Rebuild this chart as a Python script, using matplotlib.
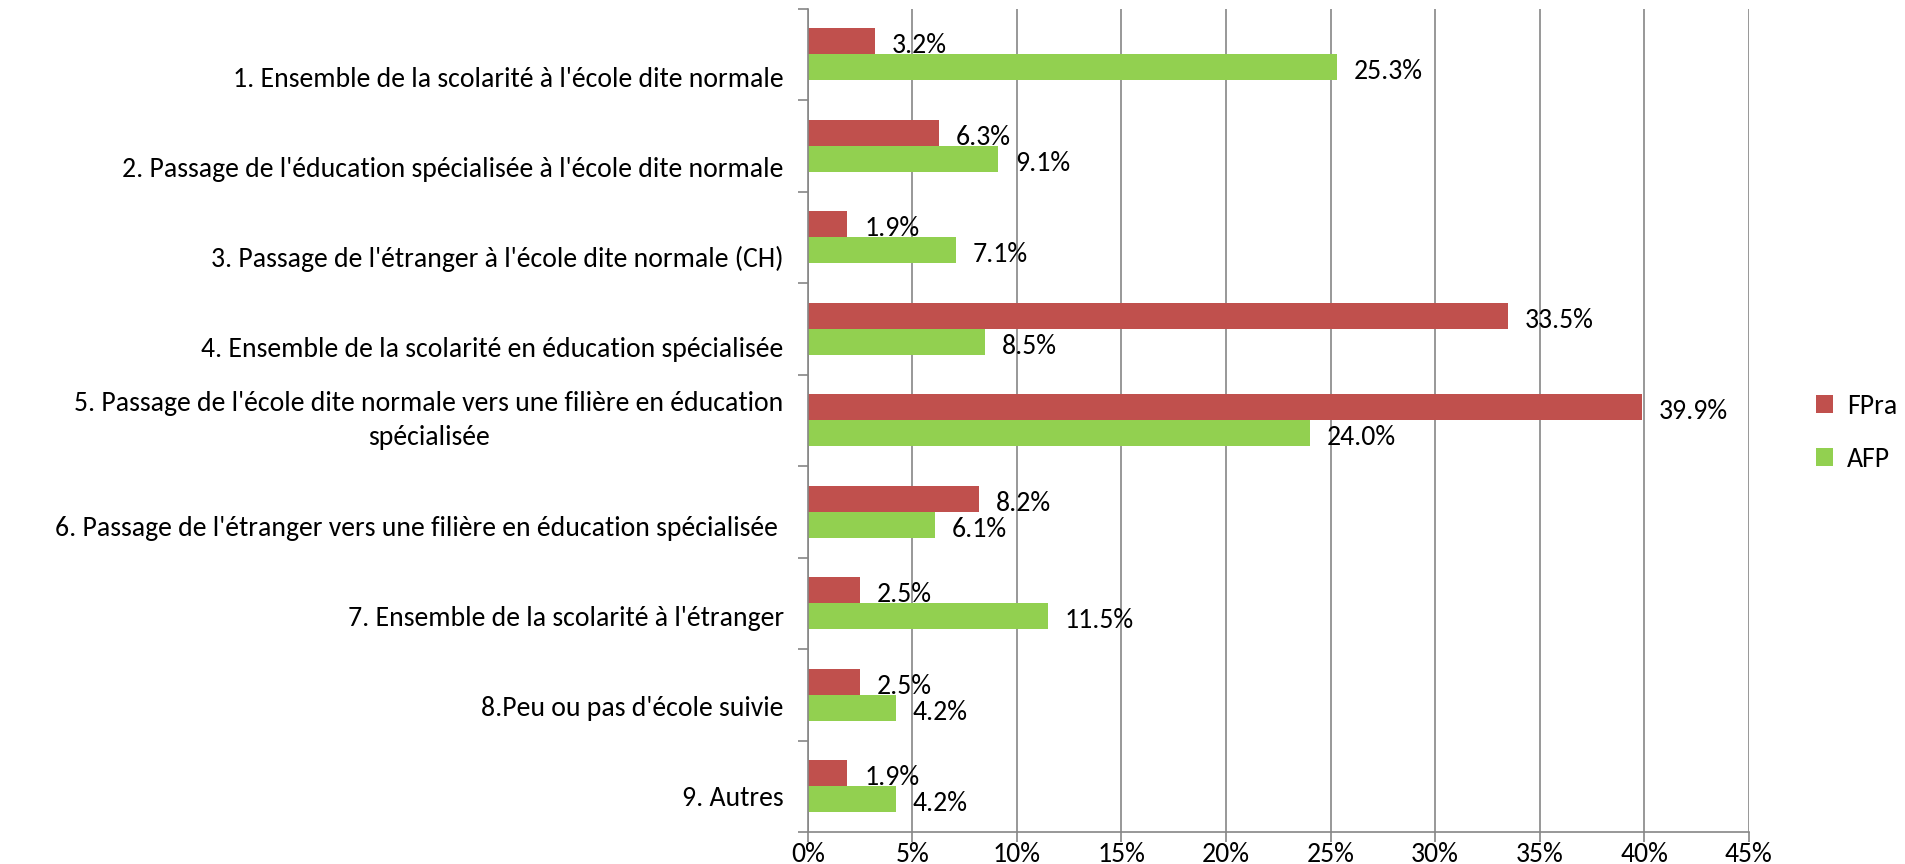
import numpy as np
import matplotlib.pyplot as plt
from matplotlib import font_manager
import matplotlib.transforms as mtransforms

names = set(f.name for f in font_manager.fontManager.ttflist)
for fam in ['Carlito', 'Liberation Sans Narrow', 'Open Sans', 'DejaVu Sans']:
    if fam in names:
        plt.rcParams['font.family'] = fam
        break

categories = [
    "1. Ensemble de la scolarité à l'école dite normale",
    "2. Passage de l'éducation spécialisée à l'école dite normale",
    "3. Passage de l'étranger à l'école dite normale (CH)",
    "4. Ensemble de la scolarité en éducation spécialisée",
    "5. Passage de l'école dite normale vers une filière en éducation\nspécialisée",
    "6. Passage de l'étranger vers une filière en éducation spécialisée ",
    "7. Ensemble de la scolarité à l'étranger",
    "8.Peu ou pas d'école suivie",
    "9. Autres",
]
fpra = [3.2, 6.3, 1.9, 33.5, 39.9, 8.2, 2.5, 2.5, 1.9]
afp = [25.3, 9.1, 7.1, 8.5, 24.0, 6.1, 11.5, 4.2, 4.2]
xticks = [0, 5, 10, 15, 20, 25, 30, 35, 40, 45]

red = '#C0504D'
green = '#92D050'
grey = '#868686'

fig = plt.figure(figsize=(19.05, 8.64), dpi=100)
ax = fig.add_axes([0.424, 0.037, 0.494, 0.953])

y = np.arange(len(categories))
h = 0.285
ax.barh(y - h / 2, fpra, height=h, color=red, label='FPra')
ax.barh(y + h / 2, afp, height=h, color=green, label='AFP')

fs = 20
for yi, v in zip(y, fpra):
    ax.text(v + 0.8, yi - h / 2 + 0.05, f'{v:.1f}%', va='center', ha='left', fontsize=fs)
for yi, v in zip(y, afp):
    ax.text(v + 0.8, yi + h / 2 + 0.05, f'{v:.1f}%', va='center', ha='left', fontsize=fs)

ax.set_xlim(0, 45)
ax.set_ylim(len(categories) - 0.5, -0.5)
ax.set_xticks(xticks)
ax.set_xticklabels([f'{t}%' for t in xticks], fontsize=fs)
ax.grid(axis='x', color=grey, linewidth=1.2)
ax.set_axisbelow(True)

# category boundary ticks, labels placed separately
ax.set_yticks(np.arange(len(categories) + 1) - 0.5)
ax.set_yticklabels([''] * (len(categories) + 1))
ax.tick_params(axis='y', length=7, color=grey, width=1.2)
ax.tick_params(axis='x', length=7, color=grey, width=1.2, pad=0)

for i, lab in enumerate(categories):
    dy = 0 if '\n' in lab else -(25 - 1.6 * i) / 100
    tr = ax.get_yaxis_transform() + mtransforms.ScaledTranslation(-0.24, dy, fig.dpi_scale_trans)
    ax.text(0, y[i], lab, transform=tr, ha='right', va='center', multialignment='center',
            fontsize=fs, linespacing=1.45)

for s in ['top', 'right']:
    ax.spines[s].set_visible(False)
for s in ['left', 'bottom']:
    ax.spines[s].set_color(grey)
    ax.spines[s].set_linewidth(1.2)

ax.legend(loc='center left', bbox_to_anchor=(1.045, 0.485), frameon=False, fontsize=fs,
          handlelength=0.6, handleheight=0.6, labelspacing=1.0, handletextpad=0.5)

fig.savefig('out.png', dpi=100)
